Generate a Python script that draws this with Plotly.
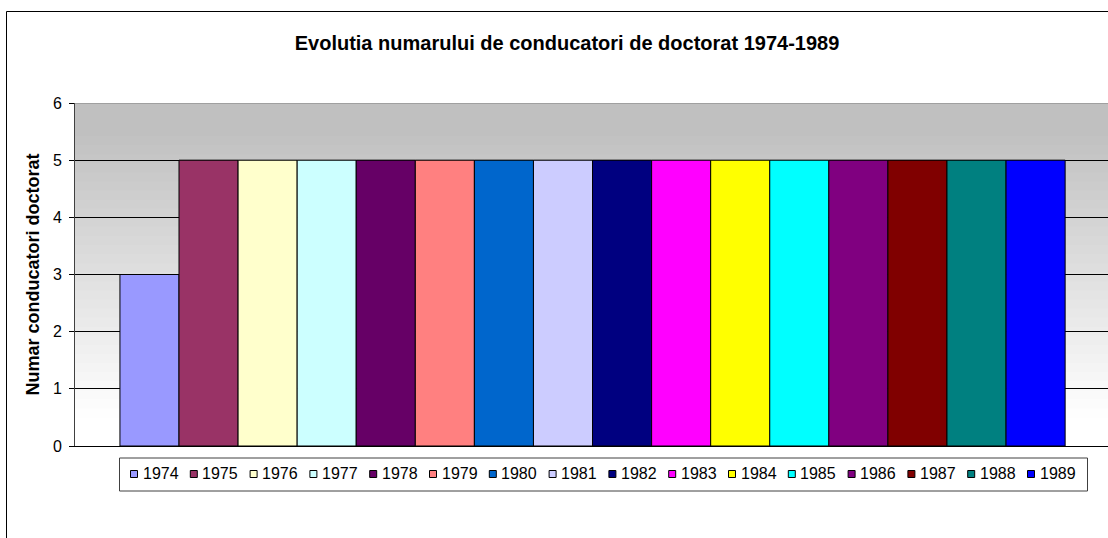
import plotly.graph_objects as go

years = ["1974", "1975", "1976", "1977", "1978", "1979", "1980", "1981",
         "1982", "1983", "1984", "1985", "1986", "1987", "1988", "1989"]
values = [3, 5, 5, 5, 5, 5, 5, 5, 5, 5, 5, 5, 5, 5, 5, 5]
colors = ["#9999FF", "#993366", "#FFFFCC", "#CCFFFF", "#660066", "#FF8080",
          "#0066CC", "#CCCCFF", "#000080", "#FF00FF", "#FFFF00", "#00FFFF",
          "#800080", "#800000", "#008080", "#0000FF"]
category = [""]

title_text = "Evolutia numarului de conducatori de doctorat 1974-1989"
ytitle_text = "Numar conducatori doctorat"

W, H = 1108, 538
ML, MR, MT, MB = 75, 0, 103, 92
PW = W - ML - MR
PH = H - MT - MB
FONT = "Arial, Liberation Sans, sans-serif"


def px2x(p):
    return (p - ML) / PW


def py2y(p):
    return (H - MB - p) / PH


fig = go.Figure()
for yr, v, c in zip(years, values, colors):
    fig.add_trace(go.Bar(
        x=category, y=[v], name=yr,
        marker=dict(color=c, line=dict(color="black", width=1)),
        showlegend=False, hoverinfo="skip",
    ))

shapes = []
# gradient background (grey at top to white at bottom)
top_c = 0xC0
shapes.append(dict(type="rect", xref="paper", yref="y", x0=0, x1=1, y0=5.5, y1=6,
                   fillcolor="#C0C0C0", line=dict(width=0), layer="below"))
n = 63
g0, g1 = 0.5, 5.5
for i in range(n):
    a = g0 + (g1 - g0) * i / n
    b = g0 + (g1 - g0) * (i + 1) / n + 0.02
    f = (i + 0.5) / n
    val = int(round(0xFF - (0xFF - top_c) * f))
    col = "#%02X%02X%02X" % (val, val, val)
    shapes.append(dict(type="rect", xref="paper", yref="y", x0=0, x1=1, y0=a, y1=min(b, 6),
                       fillcolor=col, line=dict(width=0), layer="below"))
# top border of plot area
shapes.append(dict(type="line", xref="paper", yref="y", x0=0, x1=1, y0=6, y1=6,
                   line=dict(color="#808080", width=1), layer="below"))
# outer chart border
shapes.append(dict(type="rect", xref="paper", yref="paper",
                   x0=px2x(6.5), x1=px2x(1120), y0=py2y(11.5), y1=py2y(550),
                   line=dict(color="black", width=1), fillcolor="rgba(0,0,0,0)"))
# legend box
shapes.append(dict(type="rect", xref="paper", yref="paper",
                   x0=px2x(119.5), x1=px2x(1087.5), y0=py2y(458), y1=py2y(491),
                   line=dict(color="#404040", width=1), fillcolor="white"))

annotations = []
stride = 59.8
for i, (yr, c) in enumerate(zip(years, colors)):
    sx = 130.5 + stride * i
    shapes.append(dict(type="rect", xref="paper", yref="paper",
                       x0=px2x(sx), x1=px2x(sx + 7), y0=py2y(470.5), y1=py2y(477.5),
                       fillcolor=c, line=dict(color="black", width=1)))
    annotations.append(dict(text=yr, xref="paper", yref="paper",
                            x=px2x(sx + 10), y=py2y(473.5), xanchor="left",
                            yanchor="middle", showarrow=False,
                            font=dict(family=FONT, size=16, color="black")))

fig.update_layout(
    width=W, height=H,
    margin=dict(l=ML, r=MR, t=MT, b=MB, pad=0),
    paper_bgcolor="white",
    plot_bgcolor="rgba(0,0,0,0)",
    barmode="group",
    bargap=0.085,
    bargroupgap=0,
    showlegend=False,
    hovermode=False,
    title=dict(text="<b>" + title_text + "</b>", x=567 / W, xanchor="center",
               y=1 - 43 / H, yanchor="middle", yref="container",
               font=dict(family=FONT, size=20, color="black")),
    xaxis=dict(showticklabels=False, ticks="", showgrid=False,
               showline=True, linecolor="black", linewidth=1,
               range=[-0.501, 0.499], zeroline=False),
    yaxis=dict(range=[0, 6], dtick=1, tick0=0, showgrid=True, gridcolor="black",
               gridwidth=1, showline=True, linecolor="#404040", linewidth=1,
               ticks="outside", ticklen=5, tickcolor="black",
               ticklabelstandoff=4, zeroline=False,
               tickfont=dict(family=FONT, size=16, color="black"),
               title=dict(text="<b>" + ytitle_text + "</b>", standoff=8,
                          font=dict(family=FONT, size=18, color="black"))),
    shapes=shapes,
    annotations=annotations,
)

fig.write_html("out.html", config={"displayModeBar": False},
               post_script="document.body.style.margin='0';document.body.style.overflow='hidden';")
